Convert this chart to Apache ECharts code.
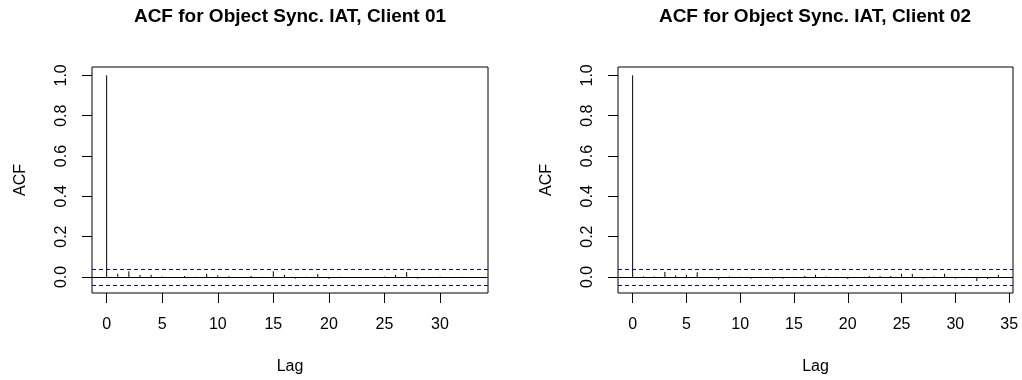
<!DOCTYPE html>
<html>
<head>
<meta charset="utf-8">
<script src="https://cdn.jsdelivr.net/npm/echarts@6/dist/echarts.min.js"></script>
<style>
html,body{margin:0;padding:0;background:#fff;}
#c{width:1022px;height:380px;}
</style>
</head>
<body>
<div id="c"></div>
<script>
// ---- data ----
const titles = ["ACF for Object Sync. IAT, Client 01", "ACF for Object Sync. IAT, Client 02"];
const lagsA = [0,1,2,3,4,5,6,7,8,9,10,11,12,13,14,15,16,17,18,19,20,21,22,23,24,25,26,27,28,29,30,31,32,33];
const acfA = [1,0.016,0.028,0.010,0.011,0.002,-0.005,0.005,0.001,0.015,0.008,0.004,-0.004,0.005,0.001,0.028,0.011,-0.008,0.001,0.015,-0.009,0.001,-0.005,-0.005,-0.005,0.002,0.011,0.024,-0.008,-0.006,0.002,-0.006,0.001,-0.005];
const lagsB = [0,1,2,3,4,5,6,7,8,9,10,11,12,13,14,15,16,17,18,19,20,21,22,23,24,25,26,27,28,29,30,31,32,33,34];
const acfB = [1,0.003,0.002,0.025,0.008,0.011,0.023,-0.004,-0.013,0.002,0.001,-0.008,0.001,-0.008,-0.008,0.001,0.005,0.011,0.002,0.001,-0.010,-0.005,0.005,0.005,0.005,0.016,0.015,-0.008,0.002,0.016,-0.008,0.001,-0.021,-0.010,0.011];
const confLimit = 0.038;
const xTicksA = [0,5,10,15,20,25,30];
const xTicksB = [0,5,10,15,20,25,30,35];
const yTicks = [0,0.2,0.4,0.6,0.8,1.0];

// ---- chart ----
const FONT = "Liberation Sans, Arial, Helvetica, sans-serif";
const chart = echarts.init(document.getElementById('c'), null, {renderer:'canvas'});

function pairs(l, v){ return l.map((x,i)=>[x, v[i]]); }
function extRange(lo, hi){ const d = (hi-lo)*0.04; return [lo-d, hi+d]; }

const xrA = extRange(lagsA[0], lagsA[lagsA.length-1]);
const xrB = extRange(lagsB[0], lagsB[lagsB.length-1]);
const yr = extRange(Math.min(-confLimit, ...acfA), Math.max(confLimit, ...acfA));
const yrB = extRange(Math.min(-confLimit, ...acfB), Math.max(confLimit, ...acfB));

function xAxisDef(idx, r, ticks){
  return {
    type:'value', gridIndex: idx, min: r[0], max: r[1], position:'bottom',
    name:'Lag', nameLocation:'middle', nameGap: 66,
    nameTextStyle:{fontFamily:FONT, fontSize:16, color:'#000'},
    axisLine:{show:false, onZero:false},
    splitLine:{show:false},
    axisTick:{show:true, inside:false, length:10, customValues: ticks, lineStyle:{color:'#000', width:1}},
    axisLabel:{show:true, customValues: ticks, margin:24, fontFamily:FONT, fontSize:16, color:'#000', formatter: v=>String(v)}
  };
}
function yAxisDef(idx, r){
  return {
    type:'value', gridIndex: idx, min: r[0], max: r[1], position:'left',
    name:'ACF', nameLocation:'middle', nameGap: 63, nameRotate: 90,
    nameTextStyle:{fontFamily:FONT, fontSize:16, color:'#000'},
    axisLine:{show:false, onZero:false},
    splitLine:{show:false},
    axisTick:{show:true, inside:false, length:10, customValues: yTicks, lineStyle:{color:'#000', width:1}},
    axisLabel:{show:true, customValues: yTicks, rotate:90, margin:22, fontFamily:FONT, fontSize:16, color:'#000', formatter: v=>v.toFixed(1)}
  };
}
function spikeSeries(idx, data){
  return {
    type:'custom', xAxisIndex: idx, yAxisIndex: idx, data: data, silent:true,
    renderItem: function(params, api){
      const p0 = api.coord([api.value(0), 0]);
      const p1 = api.coord([api.value(0), api.value(1)]);
      return {type:'line', shape:{x1:p0[0], y1:p0[1], x2:p1[0], y2:p1[1]}, style:{stroke:'#000', lineWidth:1}};
    }
  };
}
function refSeries(idx){
  return {
    type:'line', xAxisIndex: idx, yAxisIndex: idx, data: [], silent:true,
    markLine:{
      silent:true, symbol:['none','none'], label:{show:false}, animation:false,
      data:[
        {yAxis: 0, lineStyle:{color:'#000', type:'solid', width:1}},
        {yAxis: confLimit, lineStyle:{color:'#0000ff', type:[4,3], width:1}},
        {yAxis: -confLimit, lineStyle:{color:'#0000ff', type:[4,3], width:1}}
      ]
    }
  };
}

chart.setOption({
  animation:false,
  backgroundColor:'#fff',
  textStyle:{fontFamily:FONT},
  grid:[
    {left:92, top:67, width:396, height:226, show:true, borderColor:'#000', borderWidth:1, backgroundColor:'transparent', containLabel:false},
    {left:618, top:67, width:395, height:226, show:true, borderColor:'#000', borderWidth:1, backgroundColor:'transparent', containLabel:false}
  ],
  xAxis:[xAxisDef(0, xrA, xTicksA), xAxisDef(1, xrB, xTicksB)],
  yAxis:[yAxisDef(0, yr), yAxisDef(1, yrB)],
  graphic:[
    {type:'text', x:290, y:7, style:{text:titles[0], font:'bold 19px '+FONT, fill:'#000', textAlign:'center', textVerticalAlign:'top'}},
    {type:'text', x:815, y:7, style:{text:titles[1], font:'bold 19px '+FONT, fill:'#000', textAlign:'center', textVerticalAlign:'top'}}
  ],
  series:[refSeries(0), spikeSeries(0, pairs(lagsA, acfA)), refSeries(1), spikeSeries(1, pairs(lagsB, acfB))]
});
</script>
</body>
</html>
